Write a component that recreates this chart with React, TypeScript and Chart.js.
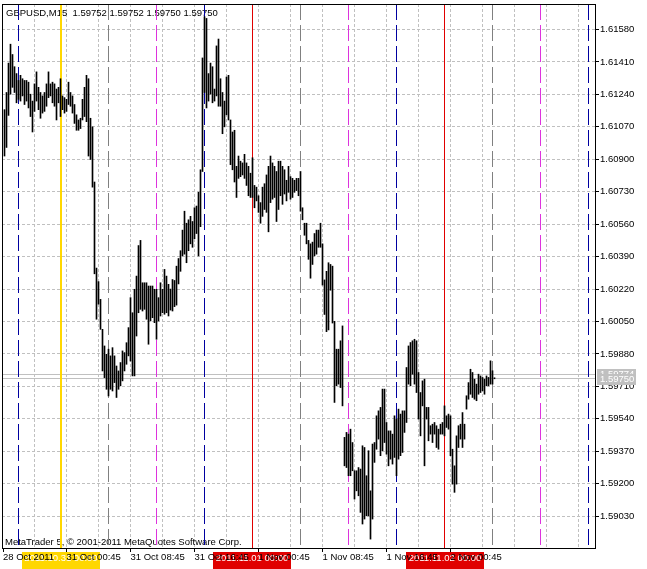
import React, { useEffect, useRef } from 'react';
import { Chart, registerables } from 'chart.js';

Chart.register(...registerables);

// ---------- data ----------
const symbolTitle = 'GBPUSD,M15  1.59752 1.59752 1.59750 1.59750';
const copyrightText = 'MetaTrader 5, \u00A9 2001-2011 MetaQuotes Software Corp.';

const highs = [
  1.61160, 1.61250, 1.61404, 1.61503, 1.61449, 1.61385, 1.61349, 1.61313, 1.61340, 1.61322,
  1.61313, 1.61313, 1.61304, 1.61241, 1.61205, 1.61295, 1.61358, 1.61277, 1.61250, 1.61232,
  1.61250, 1.61295, 1.61358, 1.61295, 1.61304, 1.61295, 1.61268, 1.61277, 1.61322, 1.61232,
  1.61223, 1.61214, 1.61304, 1.61250, 1.61232, 1.61187, 1.61133, 1.61106, 1.61115, 1.61214,
  1.61277, 1.61340, 1.61322, 1.61115, 1.61070, 1.60781, 1.60330, 1.60259, 1.60166, 1.60009,
  1.59922, 1.59878, 1.59905, 1.59870, 1.59913, 1.59870, 1.59817, 1.59791, 1.59835, 1.59896,
  1.59887, 1.59939, 1.60018, 1.60175, 1.60096, 1.60219, 1.60288, 1.60448, 1.60475, 1.60253,
  1.60253, 1.60253, 1.60236, 1.60236, 1.60236, 1.60219, 1.60219, 1.60175, 1.60253, 1.60219,
  1.60323, 1.60288, 1.60245, 1.60220, 1.60270, 1.60265, 1.60340, 1.60380, 1.60421, 1.60529,
  1.60628, 1.60565, 1.60583, 1.60601, 1.60574, 1.60646, 1.60655, 1.60727, 1.60845, 1.61431,
  1.61647, 1.61638, 1.61349, 1.61404, 1.61385, 1.61268, 1.61494, 1.61530, 1.61322, 1.61250,
  1.61205, 1.61331, 1.61340, 1.61106, 1.61043, 1.61052, 1.60863, 1.60917, 1.60890, 1.60881,
  1.60926, 1.60881, 1.60863, 1.60827, 1.60908, 1.60763, 1.60754, 1.60709, 1.60673, 1.60754,
  1.60772, 1.60818, 1.60863, 1.60917, 1.60881, 1.60863, 1.60836, 1.60890, 1.60890, 1.60863,
  1.60845, 1.60790, 1.60863, 1.60809, 1.60800, 1.60790, 1.60800, 1.60800, 1.60836, 1.60646,
  1.60565, 1.60565, 1.60475, 1.60457, 1.60466, 1.60511, 1.60529, 1.60529, 1.60565, 1.60457,
  1.60268, 1.60313, 1.60358, 1.60349, 1.60340, 1.60051, 1.59905, 1.59905, 1.59949, 1.60027,
  1.59443, 1.59469, 1.59460, 1.59486, 1.59416, 1.59268, 1.59268, 1.59285, 1.59277, 1.59399,
  1.59390, 1.59242, 1.59373, 1.59163, 1.59408, 1.59416, 1.59556, 1.59582, 1.59600, 1.59696,
  1.59696, 1.59521, 1.59477, 1.59477, 1.59460, 1.59556, 1.59539, 1.59591, 1.59565, 1.59582,
  1.59582, 1.59809, 1.59922, 1.59940, 1.59949, 1.59957, 1.59949, 1.59783, 1.59678, 1.59739,
  1.59748, 1.59600, 1.59600, 1.59504, 1.59512, 1.59521, 1.59504, 1.59486, 1.59512, 1.59521,
  1.59608, 1.59556, 1.59565, 1.59556, 1.59381, 1.59294, 1.59451, 1.59504, 1.59512, 1.59573,
  1.59512, 1.59661, 1.59730, 1.59800, 1.59783, 1.59748, 1.59722, 1.59774, 1.59765, 1.59757,
  1.59748, 1.59765, 1.59757, 1.59844, 1.59792, 1.59752,
];

const lows = [
  1.60917, 1.60962, 1.61130, 1.61241, 1.61277, 1.61250, 1.61196, 1.61214, 1.61205, 1.61232,
  1.61187, 1.61205, 1.61169, 1.61124, 1.61043, 1.61151, 1.61205, 1.61160, 1.61115, 1.61142,
  1.61151, 1.61178, 1.61223, 1.61232, 1.61196, 1.61178, 1.61106, 1.61196, 1.61124, 1.61160,
  1.61142, 1.61151, 1.61187, 1.61178, 1.61142, 1.61088, 1.61052, 1.61052, 1.61061, 1.61106,
  1.61124, 1.61097, 1.60917, 1.60899, 1.60754, 1.60300, 1.60062, 1.60141, 1.60009, 1.59791,
  1.59756, 1.59695, 1.59660, 1.59695, 1.59686, 1.59730, 1.59652, 1.59695, 1.59713, 1.59739,
  1.59791, 1.59826, 1.59870, 1.59843, 1.59765, 1.59765, 1.59974, 1.60096, 1.60114, 1.60105,
  1.60114, 1.60062, 1.59931, 1.60053, 1.60070, 1.60044, 1.59957, 1.60053, 1.60079, 1.60096,
  1.60088, 1.60096, 1.60079, 1.60110, 1.60105, 1.60128, 1.60136, 1.60247, 1.60313, 1.60394,
  1.60403, 1.60358, 1.60421, 1.60457, 1.60439, 1.60484, 1.60511, 1.60394, 1.60547, 1.60836,
  1.61250, 1.61169, 1.61205, 1.61241, 1.61196, 1.61205, 1.61232, 1.61178, 1.61178, 1.61034,
  1.61070, 1.61133, 1.61106, 1.60872, 1.60845, 1.60781, 1.60700, 1.60800, 1.60809, 1.60818,
  1.60800, 1.60763, 1.60709, 1.60700, 1.60700, 1.60646, 1.60682, 1.60622, 1.60565, 1.60601,
  1.60637, 1.60622, 1.60520, 1.60673, 1.60691, 1.60700, 1.60574, 1.60637, 1.60709, 1.60664,
  1.60718, 1.60682, 1.60727, 1.60691, 1.60700, 1.60727, 1.60736, 1.60709, 1.60628, 1.60583,
  1.60502, 1.60457, 1.60376, 1.60277, 1.60349, 1.60394, 1.60403, 1.60439, 1.60439, 1.60241,
  1.60087, 1.59997, 1.60006, 1.60214, 1.60042, 1.59626, 1.59713, 1.59722, 1.59704, 1.59608,
  1.59294, 1.59285, 1.59242, 1.59242, 1.59268, 1.59120, 1.59163, 1.59137, 1.59050, 1.58989,
  1.59015, 1.59032, 1.59032, 1.58910, 1.59015, 1.59312, 1.59381, 1.59434, 1.59347, 1.59373,
  1.59416, 1.59355, 1.59294, 1.59329, 1.59303, 1.59338, 1.59242, 1.59329, 1.59347, 1.59364,
  1.59469, 1.59521, 1.59722, 1.59713, 1.59774, 1.59722, 1.59678, 1.59539, 1.59451, 1.59608,
  1.59294, 1.59539, 1.59425, 1.59460, 1.59416, 1.59460, 1.59390, 1.59381, 1.59460, 1.59460,
  1.59451, 1.59495, 1.59486, 1.59347, 1.59198, 1.59155, 1.59198, 1.59390, 1.59434, 1.59390,
  1.59434, 1.59591, 1.59643, 1.59669, 1.59652, 1.59643, 1.59635, 1.59669, 1.59678, 1.59687,
  1.59669, 1.59713, 1.59713, 1.59722, 1.59722, 1.59750,
];

const priceTicks = [
  1.59030, 1.59200, 1.59370, 1.59540, 1.59710, 1.59880, 1.60050, 1.60220,
  1.60390, 1.60560, 1.60730, 1.60900, 1.61070, 1.61240, 1.61410, 1.61580,
];

const timeLabelIndex = [-0.75, 31, 63, 95, 127, 159, 191, 223];
const timeLabels = [
  '28 Oct 2011', '31 Oct 00:45', '31 Oct 08:45', '31 Oct 16:45',
  '1 Nov 00:45', '1 Nov 08:45', '1 Nov 16:45', '2 Nov 00:45',
];

const askPrice = 1.59774;
const bidPrice = 1.59750;

const vLineIndex = [7, 28.25, 52, 76, 100, 124, 148, 172, 196, 220, 244, 268, 292];
const vLineKind = ['blue', 'yellow', 'gray', 'magenta', 'blue', 'red', 'gray', 'magenta', 'blue', 'red', 'gray', 'magenta', 'blue'];
const vLineLabels: (string | null)[] = [
  null, '2011.10.31 00:00', null, null, null, '2011.11.01 00:00', null, null, null, '2011.11.02 00:00', null, null, null,
];

// ---------- view settings ----------
const X_MIN = -1.25;
const X_MAX = 295.25;
const Y_MIN = 1.5886339;
const Y_MAX = 1.617136;
const FONT_FAMILY = '"Liberation Sans", Arial, sans-serif';
const FONT_SIZE = 9.5;
const GRID_COLOR = '#c0c0c0';

const lineStyles: Record<string, { color: string; width: number; dash: number[] }> = {
  blue: { color: '#0000a0', width: 1, dash: [16, 5] },
  yellow: { color: '#ffd700', width: 2, dash: [] },
  gray: { color: '#808080', width: 1, dash: [16, 5] },
  magenta: { color: '#dd33dd', width: 1, dash: [16, 5] },
  red: { color: '#e00000', width: 1, dash: [] },
};

const gridIndex: number[] = [];
for (let v = 15; v < X_MAX; v += 16) gridIndex.push(v);
const xTickValues = [timeLabelIndex[0], ...gridIndex];

const mtPlugin = {
  id: 'mt5decor',
  beforeDraw(chart: any) {
    const { ctx } = chart;
    const xs = chart.scales.x;
    ctx.save();
    ctx.font = `${FONT_SIZE}px ${FONT_FAMILY}`;
    vLineIndex.forEach((v, k) => {
      const lab = vLineLabels[k];
      if (!lab) return;
      const st = lineStyles[vLineKind[k]];
      const px = xs.getPixelForValue(v);
      const w = 78;
      const left = Math.round(px - w / 2);
      ctx.fillStyle = st.color;
      ctx.fillRect(left, 552, w, 17);
      ctx.fillStyle = '#ffffff';
      ctx.textAlign = 'center';
      ctx.textBaseline = 'alphabetic';
      ctx.fillText(lab, left + w / 2, 561);
    });
    ctx.restore();
  },
  beforeDatasetsDraw(chart: any) {
    const { ctx, chartArea: ca } = chart;
    const xs = chart.scales.x;
    const ys = chart.scales.y;
    ctx.save();
    // texts
    ctx.font = `${FONT_SIZE}px ${FONT_FAMILY}`;
    ctx.fillStyle = '#000';
    ctx.textAlign = 'left';
    ctx.textBaseline = 'alphabetic';
    ctx.fillText(symbolTitle, 6, 16);
    ctx.fillText(copyrightText, 5, 545);
    // bid / ask lines
    ctx.strokeStyle = GRID_COLOR;
    ctx.lineWidth = 1;
    [askPrice, bidPrice].forEach((p) => {
      const py = Math.round(ys.getPixelForValue(p) - 0.5) + 0.5;
      ctx.beginPath();
      ctx.moveTo(ca.left, py);
      ctx.lineTo(ca.right, py);
      ctx.stroke();
    });
    // vertical object lines
    vLineIndex.forEach((v, k) => {
      const st = lineStyles[vLineKind[k]];
      let px = xs.getPixelForValue(v);
      if (st.width % 2 === 1) px = Math.round(px - 0.5) + 0.5;
      else px = Math.round(px);
      ctx.strokeStyle = st.color;
      ctx.lineWidth = st.width;
      ctx.setLineDash(st.dash);
      ctx.beginPath();
      ctx.moveTo(px, ca.top);
      ctx.lineTo(px, ca.bottom);
      ctx.stroke();
    });
    ctx.restore();
  },
  afterDatasetsDraw(chart: any) {
    const { ctx, chartArea: ca } = chart;
    ctx.save();
    ctx.strokeStyle = '#000';
    ctx.lineWidth = 1;
    ctx.strokeRect(ca.left + 0.5, ca.top + 0.5, ca.right - ca.left, ca.bottom - ca.top);
    ctx.restore();
  },
  afterDraw(chart: any) {
    const { ctx } = chart;
    const ys = chart.scales.y;
    ctx.save();
    ctx.font = `${FONT_SIZE}px ${FONT_FAMILY}`;
    ctx.textAlign = 'left';
    ctx.textBaseline = 'middle';
    [askPrice, bidPrice].forEach((p) => {
      const py = ys.getPixelForValue(p);
      ctx.fillStyle = '#c0c0c0';
      ctx.fillRect(597, Math.round(py) - 5, 39, 11);
      ctx.fillStyle = '#ffffff';
      ctx.fillText(p.toFixed(5), 600, Math.round(py) + 0.5);
    });
    ctx.restore();
  },
};

export default function App() {
  const ref = useRef<HTMLCanvasElement | null>(null);
  useEffect(() => {
    if (!ref.current) return;
    const chart = new Chart(ref.current, {
      type: 'bar',
      data: {
        datasets: [
          {
            data: highs.map((h, i) => ({ x: i, y: [lows[i], h] })) as any,
            backgroundColor: '#000000',
            borderWidth: 0,
            barThickness: 1,
            minBarLength: 1,
          },
        ],
      },
      options: {
        animation: false,
        responsive: false,
        devicePixelRatio: 1,
        events: [],
        layout: { padding: { left: 2, top: 4, right: 0, bottom: 0 } },
        plugins: { legend: { display: false }, tooltip: { enabled: false }, title: { display: false } },
        scales: {
          x: {
            type: 'linear',
            min: X_MIN,
            max: X_MAX,
            bounds: 'data',
            offset: false,
            afterBuildTicks: (s: any) => {
              s.ticks = xTickValues.map((v) => ({ value: v }));
            },
            afterFit: (s: any) => {
              s.height = 21;
              s.paddingLeft = 0;
              s.paddingRight = 0;
              s.paddingTop = 0;
              s.paddingBottom = 0;
            },
            grid: {
              offset: false,
              color: (c: any) => (c.tick && c.tick.value < 0 ? 'rgba(0,0,0,0)' : GRID_COLOR),
              lineWidth: 1,
              drawTicks: true,
              tickLength: 4,
              tickWidth: 1,
              tickColor: (c: any) => (c.tick && timeLabelIndex.includes(c.tick.value) ? '#000' : 'rgba(0,0,0,0)'),
            },
            border: { display: false, dash: [3, 2] },
            ticks: {
              autoSkip: false,
              maxRotation: 0,
              minRotation: 0,
              align: 'start',
              padding: 0,
              color: '#000',
              font: { family: FONT_FAMILY, size: FONT_SIZE },
              callback: (v: any) => {
                const k = timeLabelIndex.indexOf(Number(v));
                return k >= 0 ? timeLabels[k] : '';
              },
            },
          } as any,
          y: {
            type: 'linear',
            position: 'right',
            min: Y_MIN,
            max: Y_MAX,
            bounds: 'data',
            beginAtZero: false,
            afterBuildTicks: (s: any) => {
              s.ticks = priceTicks.map((v) => ({ value: v }));
            },
            afterFit: (s: any) => {
              s.width = 52;
              s.paddingLeft = 0;
              s.paddingRight = 0;
              s.paddingTop = 0;
              s.paddingBottom = 0;
            },
            grid: {
              color: GRID_COLOR,
              lineWidth: 1,
              drawTicks: true,
              tickLength: 4,
              tickColor: '#000',
            },
            border: { display: false, dash: [3, 2] },
            ticks: {
              autoSkip: false,
              padding: 1,
              color: '#000',
              font: { family: FONT_FAMILY, size: FONT_SIZE },
              callback: (v: any) => Number(v).toFixed(5),
            },
          } as any,
        },
      },
      plugins: [mtPlugin],
    });
    return () => chart.destroy();
  }, []);

  return (
    <div style={{ position: 'absolute', left: 0, top: 0, width: 647, height: 569, background: '#ffffff' }}>
      <canvas ref={ref} width={647} height={569} style={{ display: 'block' }} />
    </div>
  );
}
